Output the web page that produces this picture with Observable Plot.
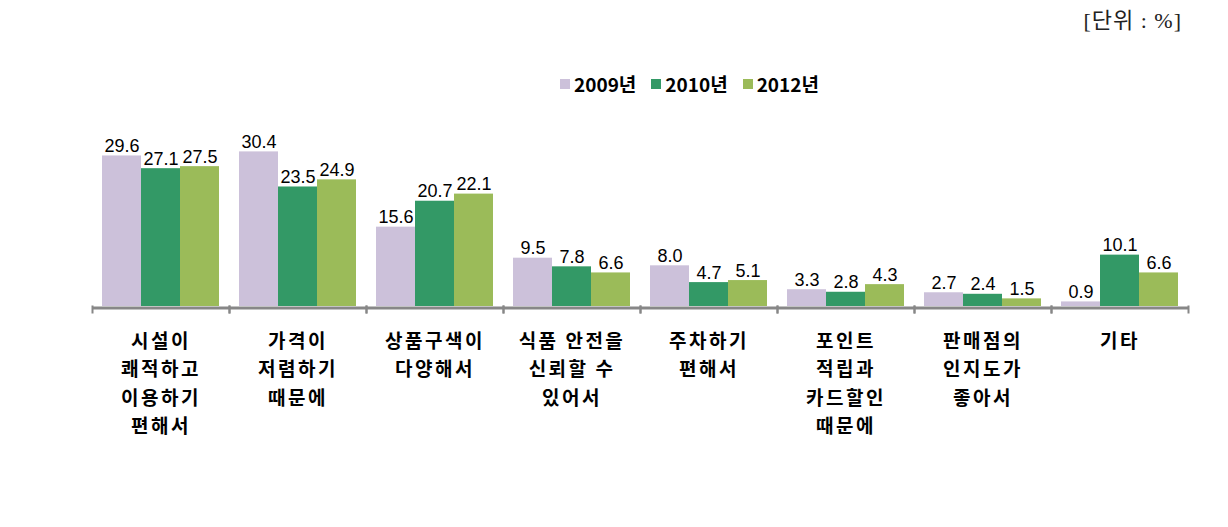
<!DOCTYPE html>
<html>
<head>
<meta charset="utf-8">
<script src="https://cdn.jsdelivr.net/npm/d3@7"></script>
<script src="https://cdn.jsdelivr.net/npm/@observablehq/plot@0.6"></script>
<style>
  html, body { margin: 0; padding: 0; background: #fff; }
  #wrap { position: relative; width: 1228px; height: 527px; overflow: hidden; }
  #unit { position: absolute; right: 46px; top: 2px; font-family: "Liberation Serif", "Noto Sans CJK KR", serif; font-size: 22px; color: #222; white-space: pre; letter-spacing: 1px; }
  #legend { position: absolute; left: 560px; top: 70px; display: flex; align-items: center; font-family: "Noto Sans CJK KR", sans-serif; font-weight: bold; font-size: 19px; color: #000; }
  #legend .item { display: flex; align-items: center; margin-right: 15px; }
  #legend .sw { width: 10px; height: 10px; margin-right: 4px; }
  g[font-weight="bold"] text { letter-spacing: 2.5px; }
</style>
</head>
<body>
<div id="wrap">
  <div id="unit">[단위 : %]</div>
  <div id="legend"></div>
  <div id="chart"></div>
</div>
<script>
const categories = [
  "시설이\n쾌적하고\n이용하기\n편해서",
  "가격이\n저렴하기\n때문에",
  "상품구색이\n다양해서",
  "식품 안전을\n신뢰할 수\n있어서",
  "주차하기\n편해서",
  "포인트\n적립과\n카드할인\n때문에",
  "판매점의\n인지도가\n좋아서",
  "기타"
];
const years = ["2009년", "2010년", "2012년"];
const v2009 = [29.6, 30.4, 15.6, 9.5, 8.0, 3.3, 2.7, 0.9];
const v2010 = [27.1, 23.5, 20.7, 7.8, 4.7, 2.8, 2.4, 10.1];
const v2012 = [27.5, 24.9, 22.1, 6.6, 5.1, 4.3, 1.5, 6.6];
const colors = ["#CCC1DA", "#339966", "#9BBB59"];

const series = [v2009, v2010, v2012];
const data = categories.flatMap((c, i) =>
  years.map((y, j) => ({cat: c, year: y, value: series[j][i]}))
);

const chart = Plot.plot({
  width: 1228,
  height: 527,
  marginLeft: 92,
  marginRight: 40,
  marginTop: 128,
  marginBottom: 221,
  fx: {domain: categories, padding: 0, axis: null},
  x: {domain: years, paddingInner: 0, paddingOuter: 0.256, axis: null},
  y: {domain: [0, 35], axis: null},
  color: {domain: years, range: colors},
  style: {background: "white"},
  marks: [
    Plot.barY(data, {fx: "cat", x: "year", y: "value", fill: "year"}),
    Plot.text(data, {
      fx: "cat", x: "year", y: "value",
      text: d => d.value.toFixed(1),
      lineAnchor: "bottom", dy: -4,
      fontSize: 18, fontFamily: "Liberation Sans, sans-serif", fill: "#000"
    }),
    Plot.ruleY([0], {stroke: "#878787", strokeWidth: 3, dy: 1.5}),
    Plot.frame({anchor: "left", stroke: "#878787", strokeWidth: 2, insetTop: 178, insetBottom: -6}),
    Plot.frame({anchor: "right", stroke: "#878787", strokeWidth: 2, insetTop: 178, insetBottom: -6}),
    Plot.text(categories, {
      fx: d => d, text: d => d,
      frameAnchor: "bottom", lineAnchor: "top", dy: 21, lineHeight: 1.5,
      fontSize: 19, fontWeight: "bold", fontFamily: "Noto Sans CJK KR, sans-serif", fill: "#000"
    })
  ]
});
document.getElementById("chart").appendChild(chart);

const legend = document.getElementById("legend");
years.forEach((y, i) => {
  const item = document.createElement("div");
  item.className = "item";
  const sw = document.createElement("div");
  sw.className = "sw";
  sw.style.background = colors[i];
  const t = document.createElement("span");
  t.textContent = y;
  item.appendChild(sw);
  item.appendChild(t);
  legend.appendChild(item);
});
</script>
</body>
</html>
